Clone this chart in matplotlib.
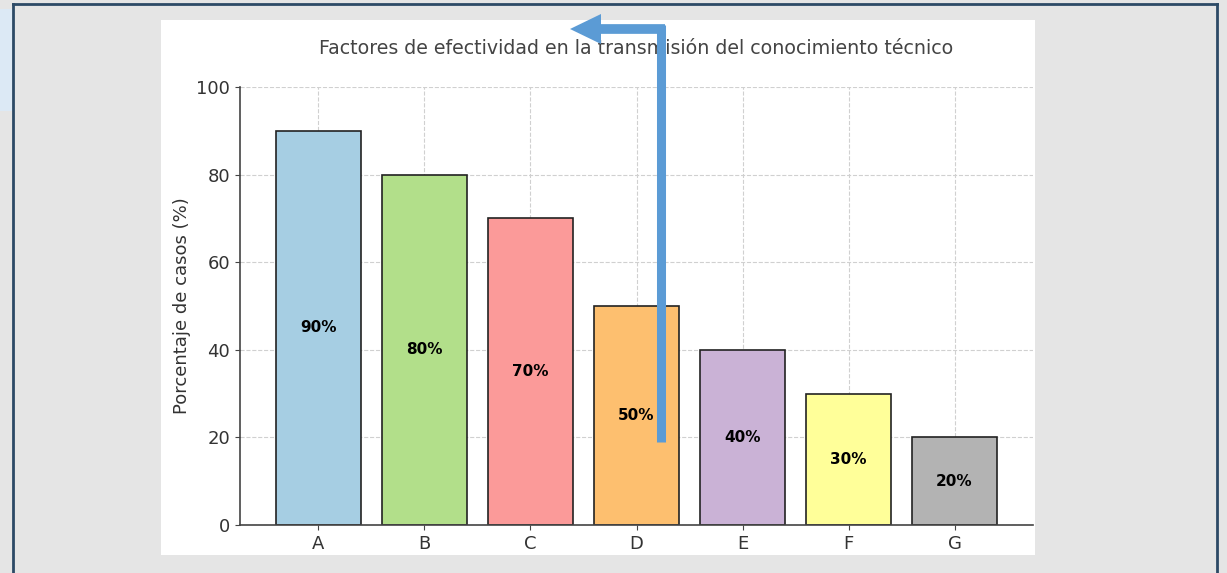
import matplotlib
matplotlib.use("Agg")
import matplotlib.pyplot as plt
from matplotlib.patches import Rectangle, FancyArrow
from matplotlib.lines import Line2D

categories = ["A", "B", "C", "D", "E", "F", "G"]
values = [90, 80, 70, 50, 40, 30, 20]
colors = ["#a6cee3", "#b2df8a", "#fb9a99", "#fdbf6f", "#cab2d6", "#ffff99", "#b3b3b3"]
title = "Factores de efectividad en la transmisión del conocimiento técnico"
ylabel = "Porcentaje de casos (%)"

W, H = 1227, 573
fig = plt.figure(figsize=(W / 100, H / 100), dpi=100)
fig.patch.set_facecolor("#e5e5e5")

def fx(x):
    return x / W

def fy(y):
    return 1 - y / H

# light blue side tab
fig.add_artist(Rectangle((0, fy(111)), fx(12), (111 - 9) / H, transform=fig.transFigure,
                         facecolor="#dce9f5", edgecolor="none", zorder=0))
# frame
fc = "#2c4a66"
fig.add_artist(Line2D([fx(13), fx(13)], [fy(4), 0], transform=fig.transFigure, color=fc, lw=2))
fig.add_artist(Line2D([fx(13), fx(1217)], [fy(4), fy(4)], transform=fig.transFigure, color=fc, lw=2))
fig.add_artist(Line2D([fx(1217), fx(1217)], [fy(4), 0], transform=fig.transFigure, color=fc, lw=2))
# white panel
fig.add_artist(Rectangle((fx(161), fy(555)), fx(1035 - 161), (555 - 20) / H, transform=fig.transFigure,
                         facecolor="white", edgecolor="none", zorder=0))

ax = fig.add_axes([fx(240), fy(525), fx(1033 - 240), (525 - 87) / H])
ax.set_facecolor("none")
bars = ax.bar(categories, values, color=colors, edgecolor="#222222", linewidth=1.2, zorder=2)
for b, v in zip(bars, values):
    ax.text(b.get_x() + b.get_width() / 2, v / 2, f"{v}%", ha="center", va="center",
            fontsize=11, fontweight="bold", color="black", zorder=3)
ax.set_ylim(0, 100)
ax.set_yticks([0, 20, 40, 60, 80, 100])
ax.grid(True, linestyle="--", color="#d0d0d0", linewidth=0.8, zorder=0)
ax.set_axisbelow(True)
for s in ["top", "right"]:
    ax.spines[s].set_visible(False)
for s in ["left", "bottom"]:
    ax.spines[s].set_color("#444444")
    ax.spines[s].set_linewidth(1.2)
ax.tick_params(labelsize=13, colors="#444444", labelcolor="#333333")
ax.set_ylabel(ylabel, fontsize=13, color="#333333")
ax.set_title(title, fontsize=13.7, color="#444444", pad=24)

# blue arrow overlay
arrow_color = "#5b9bd5"
fig.add_artist(Line2D([fx(661), fx(661)], [fy(442), fy(25)], transform=fig.transFigure,
                      color=arrow_color, lw=6.5, solid_capstyle="butt"))
fig.add_artist(Line2D([fx(665), fx(598)], [fy(29), fy(29)], transform=fig.transFigure,
                      color=arrow_color, lw=7, solid_capstyle="butt"))
fig.add_artist(FancyArrow(fx(601), fy(29), -fx(31), 0, width=0, head_width=30 / H,
                          head_length=fx(31), length_includes_head=True, transform=fig.transFigure,
                          color=arrow_color, lw=0))

fig.savefig("out.png", dpi=100, facecolor=fig.get_facecolor())
